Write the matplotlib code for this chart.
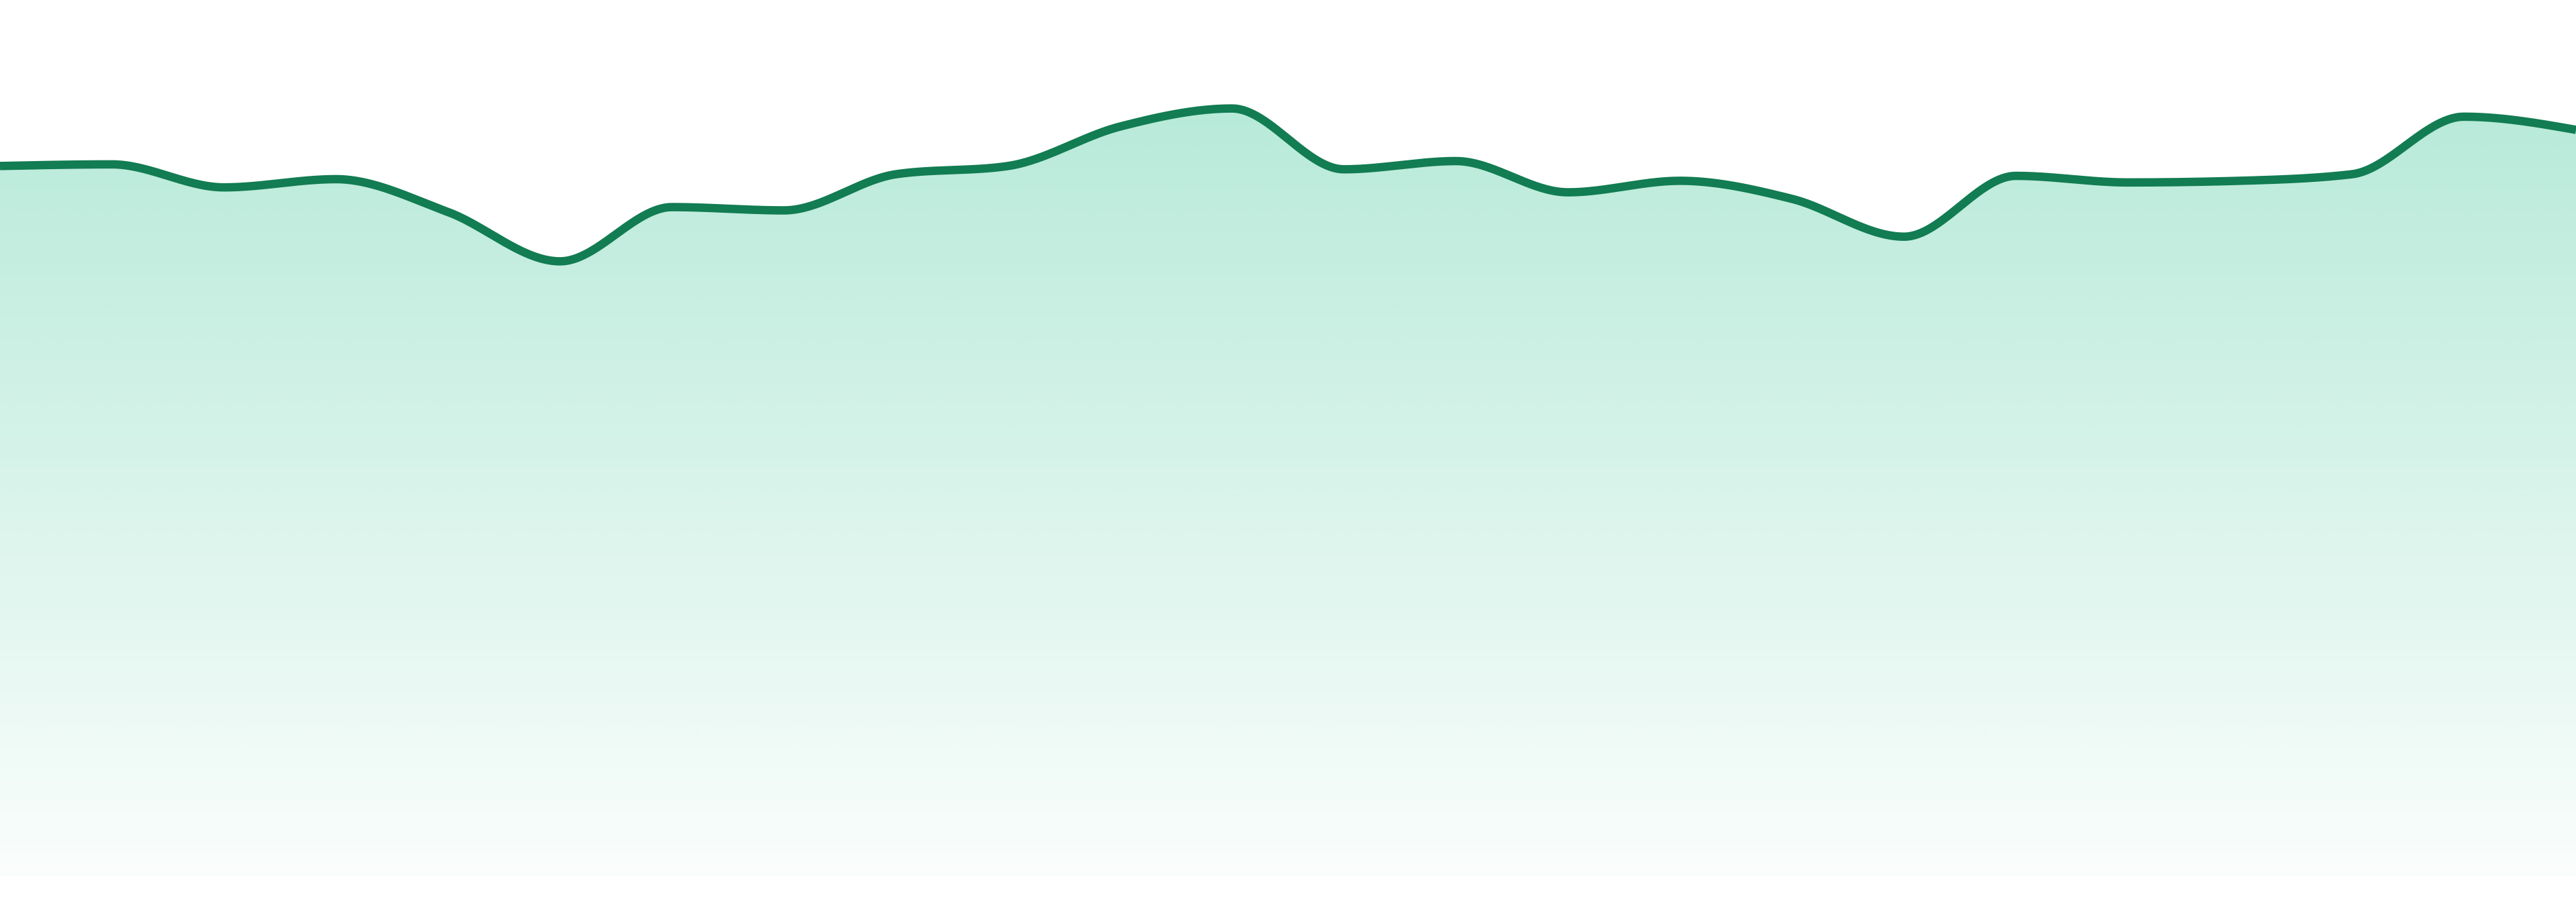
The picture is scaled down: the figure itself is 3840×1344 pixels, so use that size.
import numpy as np
import matplotlib
matplotlib.use("Agg")
import matplotlib.pyplot as plt
from matplotlib.path import Path
from matplotlib.patches import PathPatch

# Data (index, value)
points = list(range(24))
values = [432, 433, 419, 424, 404, 374, 407, 405, 427, 432, 456, 467,
          430, 435, 416, 423, 412, 389, 426, 422, 423, 427, 462, 454]

LINE_COLOR = "#127c52"
FILL_RGB = (16 / 255, 185 / 255, 129 / 255)


def monotone_x(xs, ys, n=60):
    xs = np.asarray(xs, float)
    ys = np.asarray(ys, float)
    m = len(xs)
    t = np.zeros(m)
    for i in range(1, m - 1):
        h0 = xs[i] - xs[i - 1]
        h1 = xs[i + 1] - xs[i]
        s0 = (ys[i] - ys[i - 1]) / h0
        s1 = (ys[i + 1] - ys[i]) / h1
        p = (s0 * h1 + s1 * h0) / (h0 + h1)
        t[i] = (np.sign(s0) + np.sign(s1)) * min(abs(s0), abs(s1), 0.5 * abs(p))
    h = xs[1] - xs[0]
    t[0] = (3 * (ys[1] - ys[0]) / h - t[1]) / 2
    h = xs[-1] - xs[-2]
    t[-1] = (3 * (ys[-1] - ys[-2]) / h - t[-2]) / 2
    outx, outy = [], []
    u = np.linspace(0, 1, n)
    for i in range(m - 1):
        dx = (xs[i + 1] - xs[i]) / 3
        P0 = np.array([xs[i], ys[i]])
        P1 = np.array([xs[i] + dx, ys[i] + dx * t[i]])
        P2 = np.array([xs[i + 1] - dx, ys[i + 1] - dx * t[i + 1]])
        P3 = np.array([xs[i + 1], ys[i + 1]])
        b = ((1 - u) ** 3)[:, None] * P0 + (3 * (1 - u) ** 2 * u)[:, None] * P1 \
            + (3 * (1 - u) * u ** 2)[:, None] * P2 + (u ** 3)[:, None] * P3
        if i > 0:
            b = b[1:]
        outx.append(b[:, 0])
        outy.append(b[:, 1])
    return np.concatenate(outx), np.concatenate(outy)


fig = plt.figure(figsize=(38.4, 13.44), dpi=100)
ax = fig.add_axes([0, 0, 1, 1])
ax.set_xlim(points[0], points[-1])
ymin, ymax = -15.8, 533
ax.set_ylim(ymin, ymax)
ax.axis("off")

cx, cy = monotone_x(points, values)

# gradient fill
top = max(values)
grad_h = 512
alpha = np.linspace(0.30, 0.02, grad_h)[:, None]  # row 0 = top
img = np.zeros((grad_h, 2, 4))
img[..., 0] = FILL_RGB[0]
img[..., 1] = FILL_RGB[1]
img[..., 2] = FILL_RGB[2]
img[..., 3] = alpha
im = ax.imshow(img, extent=[points[0], points[-1], 0, top], aspect="auto",
               origin="upper", interpolation="bilinear", zorder=1)
verts = np.column_stack([np.concatenate([cx, [cx[-1], cx[0]]]),
                         np.concatenate([cy, [0, 0]])])
clip = PathPatch(Path(verts, closed=False), transform=ax.transData,
                 facecolor="none", edgecolor="none")
ax.add_patch(clip)
im.set_clip_path(clip)

ax.plot(cx, cy, color=LINE_COLOR, linewidth=9, solid_capstyle="butt",
        solid_joinstyle="round", zorder=3)

fig.savefig("out.png", dpi=100, facecolor="white")
